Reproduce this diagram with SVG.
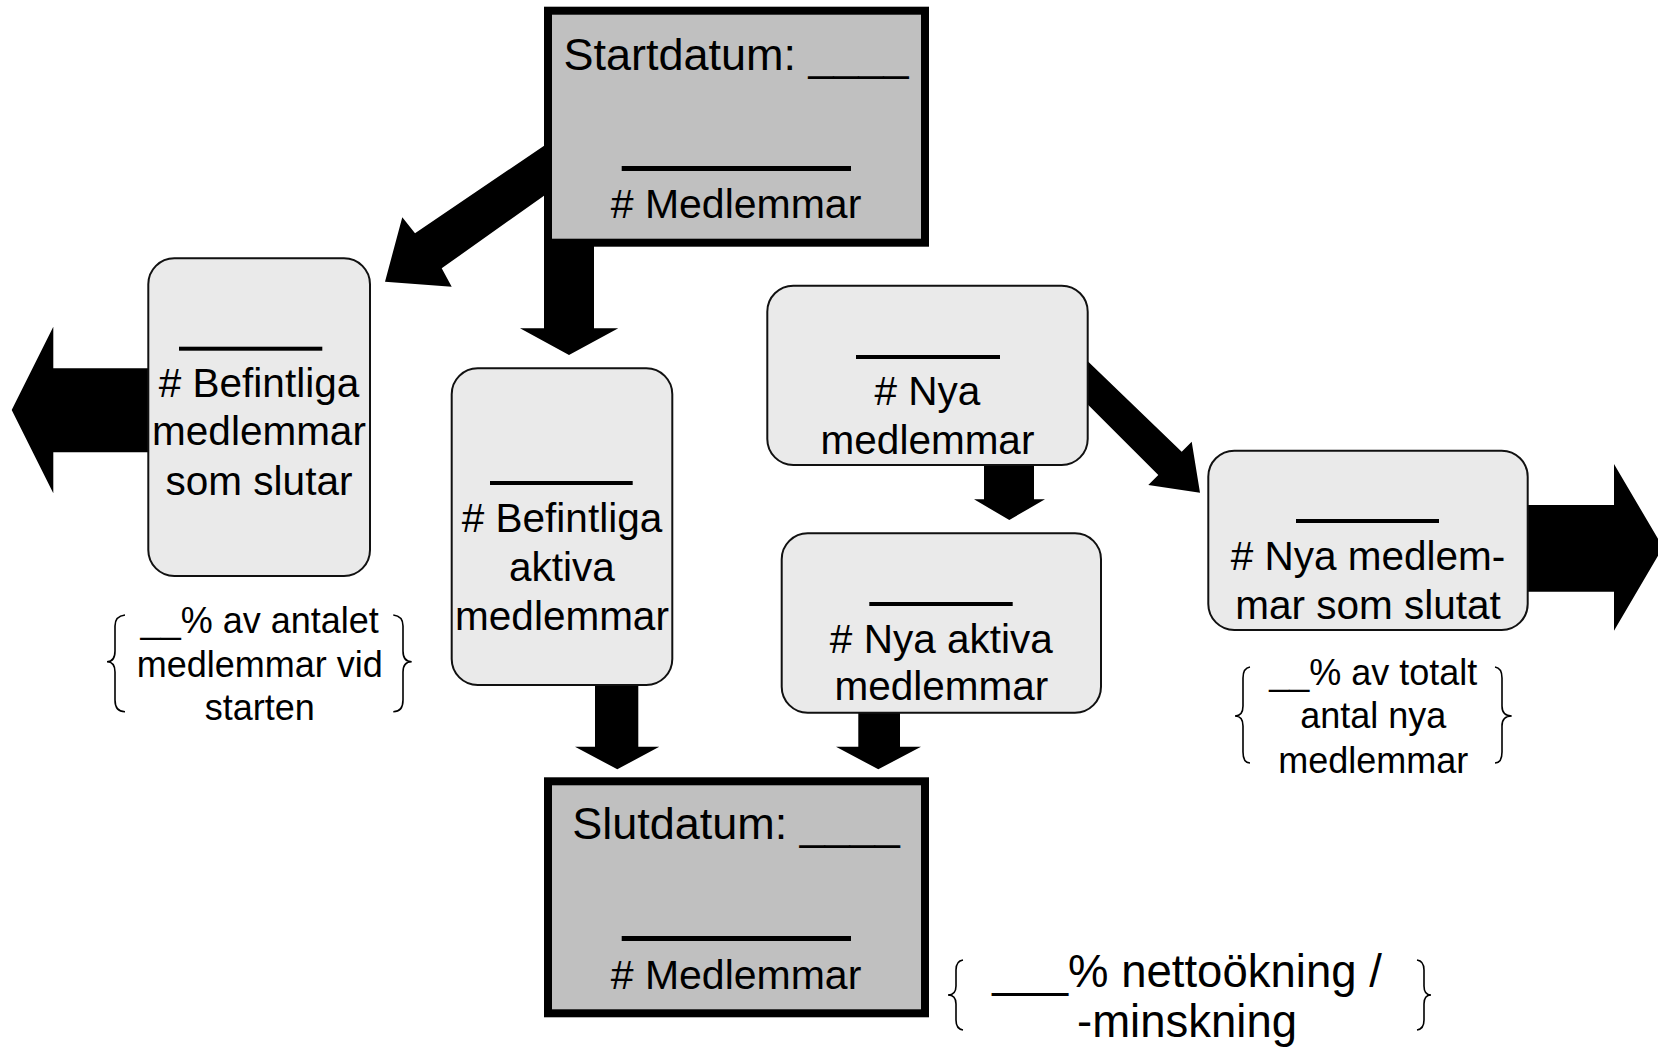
<svg xmlns="http://www.w3.org/2000/svg" width="1658" height="1048" viewBox="0 0 1658 1048">
<style>
text{font-family:"Liberation Sans",Arial,sans-serif;fill:#000}
.bt{font-size:40.5px;text-anchor:middle}
.big{font-size:45px;text-anchor:middle}
.med{font-size:41px;text-anchor:middle}
.br{font-size:36px;text-anchor:middle}
.nt{font-size:45.5px;text-anchor:middle}
.sq{fill:#c0c0c0;stroke:#000;stroke-width:8}
.rr{fill:#eaeaea;stroke:#111;stroke-width:2}
.ln{fill:#000}
.arr{fill:#000}
.brace{fill:none;stroke:#000;stroke-width:1.6}
</style>
<rect width="1658" height="1048" fill="#fff"/>
<g id="connectors">
<polygon class="arr" points="550,141.7 415,233.3 402.3,217.3 385,281.7 451.7,286.7 441.7,268.3 550,191.5"/>
<polygon class="arr" points="544,240 594,240 594,328.3 618.3,328.3 569,355 520,328.3 544,328.3"/>
<polygon class="arr" points="160,368.3 53.3,368.3 53.3,326.7 11.7,410 53.3,493.3 53.3,452.3 160,452.3"/>
<polygon class="arr" points="595,680 638.3,680 638.3,746.7 659.3,746.7 617.3,769.3 575,746.7 595,746.7"/>
<polygon class="arr" points="858.3,705 900,705 900,746.7 921,746.7 878.3,769.3 836,746.7 858.3,746.7"/>
<polygon class="arr" points="984,460 1034,460 1034,499.3 1045,499.3 1009.3,520 974,499.3 984,499.3"/>
<polygon class="arr" points="1080,353.7 1181.7,451.7 1191.7,441.7 1200,492.7 1148.3,485 1158.3,475 1080,396.7"/>
<polygon class="arr" points="1520,505 1614,505 1614,464 1663,547.3 1614,630.7 1614,591.7 1520,591.7"/>
</g>
<g id="start">
<rect class="sq" x="548" y="10.7" width="377" height="232"/>
<text class="big" x="736" y="70">Startdatum: ____</text>
<rect class="ln" x="621.7" y="166" width="229.3" height="5"/>
<text class="med" x="736" y="218.3"># Medlemmar</text>
</g>
<g id="befintliga-slutar">
<rect class="rr" x="148.3" y="258.3" width="221.7" height="317.7" rx="26"/>
<rect class="ln" x="179" y="346.7" width="143.3" height="4"/>
<text class="bt" x="259" y="396.7"># Befintliga</text>
<text class="bt" x="259" y="445">medlemmar</text>
<text class="bt" x="259" y="495">som slutar</text>
</g>
<g id="befintliga-aktiva">
<rect class="rr" x="451.7" y="368.3" width="220.6" height="316.7" rx="26"/>
<rect class="ln" x="490" y="481" width="142.7" height="4"/>
<text class="bt" x="562" y="531.7"># Befintliga</text>
<text class="bt" x="562" y="580.7">aktiva</text>
<text class="bt" x="562" y="630">medlemmar</text>
</g>
<g id="nya">
<rect class="rr" x="767.3" y="285.7" width="320.4" height="179.3" rx="26"/>
<rect class="ln" x="856" y="355" width="144" height="4"/>
<text class="bt" x="927.5" y="405"># Nya</text>
<text class="bt" x="927.5" y="454.3">medlemmar</text>
</g>
<g id="nya-aktiva">
<rect class="rr" x="781.7" y="533.3" width="319.3" height="179.4" rx="26"/>
<rect class="ln" x="869.3" y="602" width="143.4" height="4"/>
<text class="bt" x="941.3" y="653.3"># Nya aktiva</text>
<text class="bt" x="941.3" y="700">medlemmar</text>
</g>
<g id="nya-slutat">
<rect class="rr" x="1208.3" y="450.7" width="319.4" height="179.3" rx="26"/>
<rect class="ln" x="1296" y="519" width="143" height="4"/>
<text class="bt" x="1368" y="570"># Nya medlem-</text>
<text class="bt" x="1368" y="619">mar som slutat</text>
</g>
<g id="slut">
<rect class="sq" x="548" y="781.3" width="377" height="232"/>
<text class="big" x="736" y="839.3">Slutdatum: ____</text>
<rect class="ln" x="621.7" y="936" width="229.3" height="5"/>
<text class="med" x="736" y="989.3"># Medlemmar</text>
</g>
<g id="note-start">
<path class="brace" d="M125,615 Q115,616 115,626 L115,651 Q115,661.7 107,661.7 Q115,661.7 115,672 L115,700 Q115,711.7 125,711.7"/>
<path class="brace" d="M393.3,615 Q403,616 403,626 L403,651 Q403,661.7 411.7,661.7 Q403,661.7 403,672 L403,700 Q403,711.7 393.3,711.7"/>
<text class="br" x="259.7" y="633.3">__% av antalet</text>
<text class="br" x="259.7" y="677.3">medlemmar vid</text>
<text class="br" x="259.7" y="720">starten</text>
</g>
<g id="note-nya">
<path class="brace" d="M1250,667 Q1243,668 1243,678 L1243,706 Q1243,716 1235,716 Q1243,716 1243,726 L1243,752 Q1243,763 1250,763"/>
<path class="brace" d="M1495,667 Q1502,668 1502,678 L1502,706 Q1502,716 1511.7,716 Q1502,716 1502,726 L1502,752 Q1502,763 1495,763"/>
<text class="br" x="1373.3" y="685">__% av totalt</text>
<text class="br" x="1373.3" y="728.3">antal nya</text>
<text class="br" x="1373.3" y="773.3">medlemmar</text>
</g>
<g id="note-netto">
<path class="brace" d="M963,960 Q956,961 956,970 L956,986 Q956,995 948,995 Q956,995 956,1004 L956,1020 Q956,1029 963,1030"/>
<path class="brace" d="M1417,960 Q1424,961 1424,970 L1424,986 Q1424,995 1431,995 Q1424,995 1424,1004 L1424,1020 Q1424,1029 1417,1030"/>
<text class="nt" x="1187" y="987">___% nettoökning /</text>
<text class="nt" x="1187" y="1037">-minskning</text>
</g>
</svg>
